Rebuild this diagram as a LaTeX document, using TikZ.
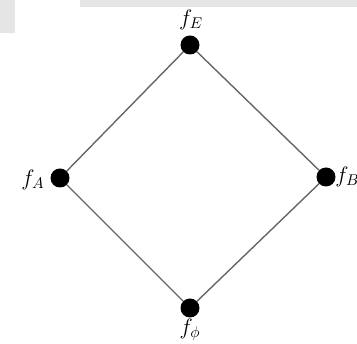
\documentclass[tikz,border=0pt]{standalone}
\usepackage{tikz}
\begin{document}
\begin{tikzpicture}[x=1pt,y=-1pt,
  dot/.style={circle,fill=black,inner sep=0pt,minimum size=19pt},
  edge/.style={draw=black!60,line width=1.4pt},
  lbl/.style={inner sep=0pt,font=\Large,scale=1.55}]
\useasboundingbox (0,0) rectangle (357,344);
\fill[black!10] (80,0) rectangle (357,7);
\fill[black!10] (0,0) rectangle (15,33);
\node[dot] (t) at (190,45) {};
\node[dot] (l) at (60,178) {};
\node[dot] (r) at (326,177) {};
\node[dot] (b) at (190,308) {};
\draw[edge] (t) -- (l) -- (b) -- (r) -- (t);
\node[lbl] (lt) at (191,20) {$f_E$};
\node[lbl] (ll) at (33,180) {$f_A$};
\node[lbl,anchor=west] (lr) at (335,177) {$f_B$};
\node[lbl] (lb) at (190,330) {$f_\phi$};
\end{tikzpicture}
\end{document}
